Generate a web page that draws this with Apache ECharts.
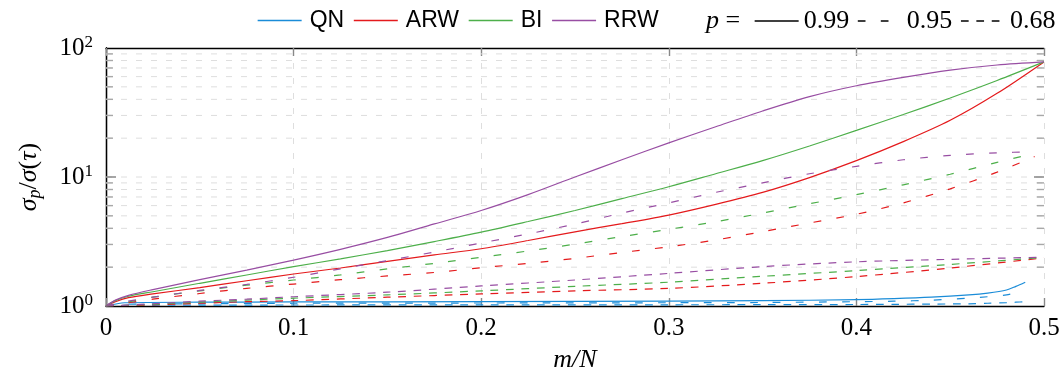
<!DOCTYPE html>
<html>
<head>
<meta charset="utf-8">
<script src="https://cdn.jsdelivr.net/npm/echarts@6/dist/echarts.min.js"></script>
<style>html,body{margin:0;padding:0;background:#fff}#c{width:1064px;height:372px}</style>
</head>
<body>
<div id="c"></div>
<script>
// ---- data ----
const methods = ['QN', 'ARW', 'BI', 'RRW'];
const pLevels = ['0.99', '0.95', '0.68'];
const xTickLabels = ['0', '0.1', '0.2', '0.3', '0.4', '0.5'];
const yGridValues = [2, 3, 4, 5, 6, 7, 8, 9, 10, 20, 30, 40, 50, 60, 70, 80, 90];

// p = 0.99 (solid)
const xSolid = [0, 0.005, 0.012, 0.025, 0.05, 0.075, 0.1, 0.125, 0.15, 0.175, 0.2, 0.225, 0.25, 0.275, 0.3, 0.325, 0.35, 0.375, 0.4, 0.425, 0.45, 0.475, 0.5];
const rrw99 = [1, 1.11, 1.21, 1.34, 1.6, 1.9, 2.27, 2.75, 3.4, 4.33, 5.5, 7.3, 10, 13.6, 18.4, 24.5, 32.5, 42, 51, 59.2, 67.3, 73.8, 78];
const bi99  = [1, 1.1, 1.19, 1.29, 1.5, 1.74, 2.02, 2.32, 2.69, 3.16, 3.74, 4.52, 5.5, 6.8, 8.4, 10.6, 13.4, 17.4, 23, 30.5, 41, 56, 78];
const arw99 = [1, 1.08, 1.16, 1.24, 1.39, 1.57, 1.77, 1.97, 2.22, 2.49, 2.78, 3.22, 3.76, 4.35, 5.07, 6.14, 7.6, 9.9, 13.4, 18.8, 27.5, 44.5, 78];

// p = 0.95 (loosely dashed)
const xDash = [0, 0.01, 0.025, 0.05, 0.075, 0.1, 0.125, 0.15, 0.175, 0.2, 0.225, 0.25, 0.275, 0.3, 0.325, 0.35, 0.375, 0.4, 0.425, 0.45, 0.475, 0.495];
const rrw95 = [1, 1.08, 1.17, 1.32, 1.47, 1.67, 1.94, 2.25, 2.62, 3.08, 3.62, 4.32, 5.25, 6.3, 7.6, 9.0, 10.6, 12.1, 13.6, 14.7, 15.4, 15.7];
const bi95  = [1, 1.06, 1.17, 1.31, 1.45, 1.59, 1.74, 1.94, 2.14, 2.39, 2.67, 3.02, 3.45, 3.93, 4.5, 5.25, 6.2, 7.3, 8.7, 10.5, 13.0, 15.2];
const arw95 = [1, 1.05, 1.13, 1.25, 1.37, 1.48, 1.6, 1.71, 1.82, 1.98, 2.14, 2.34, 2.6, 2.88, 3.25, 3.77, 4.4, 5.14, 6.3, 8.1, 10.9, 14.4];

// p = 0.68 (dashed)
const xDense = [0, 0.025, 0.05, 0.075, 0.1, 0.15, 0.2, 0.25, 0.3, 0.35, 0.4, 0.45, 0.5];
const rrw68 = [1, 1.04, 1.09, 1.13, 1.18, 1.28, 1.43, 1.59, 1.79, 2.02, 2.2, 2.3, 2.39];
const bi68  = [1, 1.03, 1.07, 1.11, 1.15, 1.22, 1.31, 1.42, 1.53, 1.7, 1.88, 2.1, 2.38];
const arw68 = [1, 1.02, 1.05, 1.08, 1.1, 1.17, 1.24, 1.31, 1.37, 1.5, 1.69, 1.97, 2.36];

// QN (all three levels)
const xQN  = [0, 0.01, 0.05, 0.1, 0.2, 0.3, 0.35, 0.4, 0.42, 0.44, 0.46, 0.47, 0.48, 0.485, 0.49];
const qn99 = [1, 1.06, 1.07, 1.075, 1.08, 1.09, 1.1, 1.12, 1.14, 1.17, 1.22, 1.26, 1.33, 1.42, 1.53];
const qn95 = [1, 1.03, 1.04, 1.05, 1.055, 1.06, 1.065, 1.08, 1.09, 1.11, 1.15, 1.18, 1.22, 1.27, 1.33];
const qn68 = [1, 1.01, 1.015, 1.018, 1.02, 1.022, 1.024, 1.027, 1.03, 1.035, 1.04, 1.05, 1.06, 1.07, 1.08];

// ---- styles ----
const colors = { QN: '#1a8cd8', ARW: '#e41a1c', BI: '#4daf4a', RRW: '#984ea3' };
const dashes = { '0.99': 'solid', '0.95': [7.7, 15.3], '0.68': [7.7, 7.7] };
const SERIF = '"Liberation Serif", "Times New Roman", serif';
const SANS = '"Liberation Sans", Arial, sans-serif';

function pairs(xs, ys) { return xs.map((x, i) => [x, ys[i]]); }
function lineSeries(name, level, xs, ys) {
  return {
    type: 'line', name: name, data: pairs(xs, ys), symbol: 'none',
    smooth: 0.3, z: 3, silent: true,
    lineStyle: { color: colors[name], width: 1.2, type: dashes[level] },
    itemStyle: { color: colors[name] }
  };
}

const series = [
  lineSeries('QN', '0.99', xQN, qn99),
  lineSeries('ARW', '0.99', xSolid, arw99),
  lineSeries('BI', '0.99', xSolid, bi99),
  lineSeries('RRW', '0.99', xSolid, rrw99),
  lineSeries('QN', '0.95', xQN, qn95),
  lineSeries('ARW', '0.95', xDash, arw95),
  lineSeries('BI', '0.95', xDash, bi95),
  lineSeries('RRW', '0.95', xDash, rrw95),
  lineSeries('QN', '0.68', xQN, qn68),
  lineSeries('ARW', '0.68', xDense, arw68),
  lineSeries('BI', '0.68', xDense, bi68),
  lineSeries('RRW', '0.68', xDense, rrw68)
];
// legend-only entries for the line styles
pLevels.forEach(l => series.push({
  type: 'line', name: l, data: [], symbol: 'none',
  lineStyle: { color: '#000', width: 1.2, type: dashes[l] }, itemStyle: { color: '#000' }
}));
// minor grid lines and minor ticks for the log axis
series.push({
  type: 'custom', name: 'grid', silent: true, z: 1, clip: false,
  data: yGridValues.map(v => [0, v]),
  renderItem: function (params, api) {
    const v = api.value(1);
    const a = api.coord([0, v]);
    const b = api.coord([0.5, v]);
    const major = v === 10;
    const len = major ? 10 : 7;
    const tc = major ? '#808080' : '#a8a8a8';
    return {
      type: 'group', children: [
        { type: 'line', shape: { x1: a[0], y1: a[1], x2: b[0], y2: b[1] }, style: { stroke: '#dedede', lineWidth: 1, lineDash: [6, 9] } },
        { type: 'line', shape: { x1: a[0], y1: a[1], x2: a[0] + len, y2: a[1] }, style: { stroke: tc, lineWidth: 1.4 } },
        { type: 'line', shape: { x1: b[0] - len, y1: b[1], x2: b[0], y2: b[1] }, style: { stroke: tc, lineWidth: 1.4 } }
      ]
    };
  }
});

const chart = echarts.init(document.getElementById('c'), null, { renderer: 'canvas' });
chart.setOption({
  animation: false,
  backgroundColor: '#fff',
  grid: { left: 106, right: 20, top: 48, bottom: 66, containLabel: false, outerBoundsMode: 'none' },
  legend: [
    {
      data: methods, left: 257, top: 9, padding: 0, itemWidth: 44, itemHeight: 14, itemGap: 9,
      selectedMode: false, itemStyle: { opacity: 0 },
      lineStyle: { width: 1.3 },
      textStyle: { fontFamily: SANS, fontSize: 23, color: '#000', padding: [0, 0, 0, 3] }
    },
    {
      data: pLevels, left: 754, top: 8, width: 330, padding: 0, itemWidth: 44, itemHeight: 14, itemGap: 8,
      selectedMode: false, itemStyle: { opacity: 0 },
      lineStyle: { width: 1.3 },
      textStyle: { fontFamily: SERIF, fontSize: 26, color: '#000' }
    }
  ],
  graphic: [{
    type: 'text', left: 706, top: 8,
    style: {
      text: '{i|p} =', fontFamily: SERIF, fontSize: 26, fill: '#000',
      rich: { i: { fontFamily: SERIF, fontStyle: 'italic', fontSize: 26 } }
    }
  }],
  xAxis: [
    {
      type: 'value', min: 0, max: 0.5, interval: 0.1, position: 'bottom',
      name: 'm/N', nameLocation: 'middle', nameGap: 41,
      nameTextStyle: { fontFamily: SERIF, fontStyle: 'italic', fontSize: 26, color: '#000' },
      axisLine: { show: true, lineStyle: { color: '#000', width: 1.3 } },
      axisTick: { show: true, inside: true, length: 8, lineStyle: { color: '#888', width: 1.4 } },
      axisLabel: {
        margin: 10, fontFamily: SERIF, fontSize: 25, color: '#000',
        formatter: (v) => xTickLabels[Math.round(v * 10)]
      },
      splitLine: { show: true, lineStyle: { color: '#dedede', width: 1, type: [6, 9] } }
    },
    {
      type: 'value', min: 0, max: 0.5, interval: 0.1, position: 'top',
      axisLine: { show: true, lineStyle: { color: '#000', width: 1.3 } },
      axisTick: { show: true, inside: true, length: 8, lineStyle: { color: '#888', width: 1.4 } },
      axisLabel: { show: false }, splitLine: { show: false }
    }
  ],
  yAxis: [
    {
      type: 'log', logBase: 10, min: 1, max: 100, interval: 1, position: 'left',
      name: '{i|σ}{s|p}{n|/}{i|σ}{n|(}{i|τ}{n|)}', nameLocation: 'middle', nameGap: 62, nameRotate: 90,
      nameTextStyle: {
        color: '#000',
        rich: {
          i: { fontFamily: SERIF, fontStyle: 'italic', fontSize: 26, lineHeight: 30 },
          n: { fontFamily: SERIF, fontSize: 26, lineHeight: 30 },
          s: { fontFamily: SERIF, fontStyle: 'italic', fontSize: 18, lineHeight: 18, verticalAlign: 'bottom' }
        }
      },
      axisLine: { show: true, lineStyle: { color: '#000', width: 1.3 } },
      axisTick: { show: false },
      axisLabel: {
        margin: 13, color: '#000',
        formatter: (v) => '{b|10}{s|' + Math.round(Math.log10(v)) + '}',
        rich: {
          b: { fontFamily: SERIF, fontSize: 25, lineHeight: 28 },
          s: { fontFamily: SERIF, fontSize: 17, lineHeight: 17, verticalAlign: 'top' }
        }
      },
      splitLine: { show: false }
    },
    {
      type: 'log', logBase: 10, min: 1, max: 100, interval: 1, position: 'right',
      axisLine: { show: true, lineStyle: { color: '#000', width: 1.3 } },
      axisTick: { show: false }, axisLabel: { show: false }, splitLine: { show: false }
    }
  ],
  series: series
});
</script>
</body>
</html>
